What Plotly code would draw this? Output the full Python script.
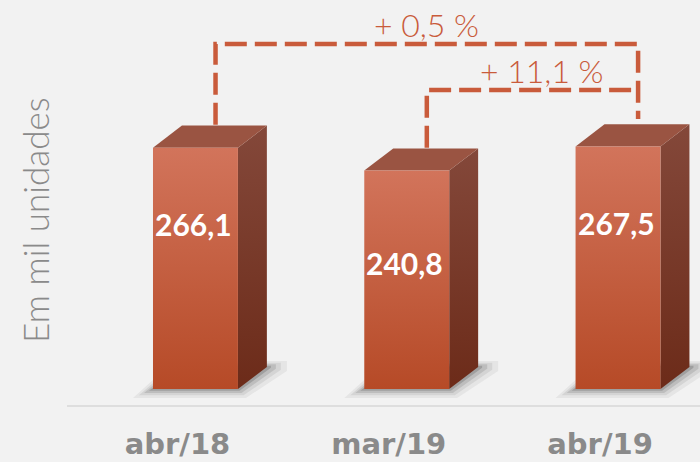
import plotly.graph_objects as go

# ---------------- data ----------------
categories = ["abr/18", "mar/19", "abr/19"]
values = [266.1, 240.8, 267.5]
value_labels = ["266,1", "240,8", "267,5"]
change_labels = ["+ 0,5 %", "+ 11,1 %"]
change_pairs = [(0, 2), (1, 2)]
y_title = "Em mil unidades"

# ---------------- style / layout constants ----------------
BG = "#f2f2f2"
FRONT_TOP, FRONT_BOTTOM = "#d2745b", "#b64a27"
TOP_FACE = "#9a5442"
SIDE_TOP, SIDE_BOTTOM = "#84483a", "#6c2b19"
ACCENT = "#c95b3b"
LABEL_GRAY = "#8a8a8a"

HALF_W = 0.201          # half width of front face (category units)
DX = 0.137              # depth offset in x (category units)
DY = 24.3               # depth offset in y (value units)
X_RANGE = [-0.608, 2.388]
Y_RANGE = [-17.64, 428.9]
BRACKET_LEVELS = [380.4, 329.7]
BRACKET_SHIFT = 0.095
TICK_SHIFT = -0.085
LABEL_FRAC = [0.675, 0.568, 0.678]
CHANGE_XSHIFT = [0, 10]

fig = go.Figure()

# shadows
PX_X = 1 / 211.25
PX_Y = 1 / 0.907
for i, v in enumerate(values):
    x0, x1 = i - HALF_W, i + HALF_W
    for e, a in [(20, 0.06), (14, 0.09), (9, 0.13), (4, 0.2)]:
        ex = e * PX_X
        ey = e * PX_Y
        xs = [x0 - ex, x1 + ex * 0.4, x1 + DX + ex, x1 + DX + ex, x0 + DX - ex * 0.4, x0 - ex]
        ys = [-ey * 0.45, -ey * 0.45, DY - ey * 0.2, DY + ey * 0.3, DY + ey * 0.3, -ey * 0.45]
        fig.add_trace(go.Scatter(x=xs, y=ys, mode="lines", fill="toself",
                                 fillcolor=f"rgba(40,40,40,{a})", line=dict(width=0),
                                 hoverinfo="skip", showlegend=False))

# 3D bars
for i, v in enumerate(values):
    x0, x1 = i - HALF_W, i + HALF_W
    # side face
    fig.add_trace(go.Scatter(
        x=[x1, x1 + DX, x1 + DX, x1, x1], y=[0, DY, v + DY, v, 0],
        mode="lines", fill="toself", line=dict(width=0),
        fillgradient=dict(type="vertical", colorscale=[[0, SIDE_BOTTOM], [1, SIDE_TOP]]),
        hoverinfo="skip", showlegend=False))
    # top face
    fig.add_trace(go.Scatter(
        x=[x0, x1, x1 + DX, x0 + DX, x0], y=[v, v, v + DY, v + DY, v],
        mode="lines", fill="toself", fillcolor=TOP_FACE, line=dict(width=0),
        hoverinfo="skip", showlegend=False))
    # front face
    fig.add_trace(go.Scatter(
        x=[x0, x1, x1, x0, x0], y=[0, 0, v, v, 0],
        mode="lines", fill="toself", line=dict(width=0),
        fillgradient=dict(type="vertical", colorscale=[[0, FRONT_BOTTOM], [1, FRONT_TOP]]),
        hoverinfo="skip", showlegend=False, name=categories[i]))
    fig.add_annotation(x=i, y=v * LABEL_FRAC[i], text=f"<b>{value_labels[i]}</b>",
                       showarrow=False, font=dict(family="Lato", size=30, color="white"),
                       xanchor="center", yanchor="middle", xshift=-2, yshift=2)

# dashed brackets
for k, ((a, b), lvl) in enumerate(zip(change_pairs, BRACKET_LEVELS)):
    xa, xb = a + BRACKET_SHIFT, b + BRACKET_SHIFT
    xs = [xa, xa, xb]
    ys = [values[a] + DY + 1, lvl, lvl]
    if k == 0:
        xs.append(xb)
        ys.append(values[b] + DY + 6)
    fig.add_trace(go.Scatter(x=xs, y=ys, mode="lines",
                             line=dict(color=ACCENT, width=4.5, dash="22px,8px"),
                             hoverinfo="skip", showlegend=False))
    fig.add_annotation(x=(xa + xb) / 2, y=lvl, text=change_labels[k], showarrow=False,
                       xanchor="center", yanchor="bottom", xshift=CHANGE_XSHIFT[k], yshift=-2,
                       font=dict(family="Lato", size=32, color=ACCENT, weight=300))

fig.add_annotation(xref="paper", yref="paper", x=-0.0506, y=0.457, text=y_title,
                   textangle=-90, showarrow=False, xanchor="center", yanchor="middle",
                   font=dict(family="Lato", size=35, color=LABEL_GRAY, weight=300))

fig.update_layout(
    width=700, height=462,
    margin=dict(l=67, r=0, t=0, b=57, autoexpand=False),
    paper_bgcolor=BG, plot_bgcolor=BG,
    showlegend=False,
    xaxis=dict(range=X_RANGE, showgrid=False, zeroline=False, automargin=False,
               showline=True, linecolor="#dedede", linewidth=2,
               tickvals=[i + TICK_SHIFT for i in range(len(categories))],
               ticktext=[f"<b>{c}</b>" for c in categories],
               ticks="", ticklabelstandoff=12,
               tickfont=dict(family="DejaVu Sans", size=29, color=LABEL_GRAY),
               fixedrange=True),
    yaxis=dict(range=Y_RANGE, visible=False, fixedrange=True, automargin=False),
)

fig.write_html(
    "out.html",
    config={"displayModeBar": False},
    post_script="document.body.style.margin='0';document.body.style.background='#f2f2f2';",
)
